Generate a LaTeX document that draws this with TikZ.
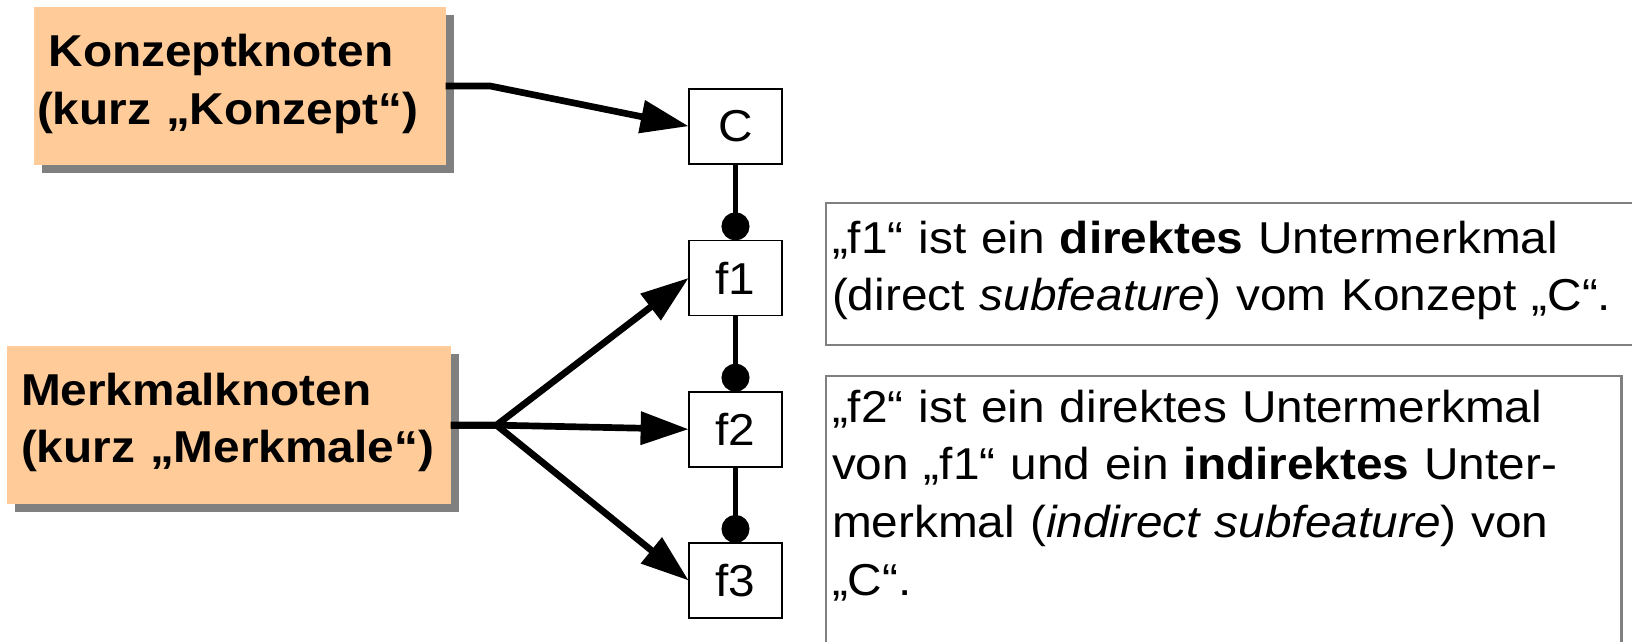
\documentclass[tikz,border=0pt]{standalone}
\usepackage{fontspec}
\setmainfont{Liberation Sans}[FakeStretch=1.07]
\usetikzlibrary{arrows.meta,shadows}
\definecolor{peach}{HTML}{FFCC99}
\definecolor{shadowgray}{HTML}{808080}
\definecolor{framegray}{HTML}{808080}

\begin{document}
\begin{tikzpicture}[x=0.01cm, y=-0.01cm,
  every node/.style={font=\fontsize{12.7}{16.4}\selectfont, outer sep=0pt},
  kind/.style={fill=peach, inner ysep=0pt, inner xsep=0pt, align=left, anchor=base west,
    font=\fontsize{12.7}{16.4}\selectfont\bfseries,
    drop shadow={shadow xshift=0.08cm, shadow yshift=-0.08cm, fill=shadowgray, opacity=1}},
  feature/.style={draw, line width=0.5pt, minimum width=0.936cm, minimum height=0.75cm, inner sep=0pt},
  note/.style={draw=framegray, line width=0.6pt, inner ysep=0pt, inner xsep=0.06cm, align=left, anchor=base west},
  pointer/.style={-{Triangle[length=4.8mm, width=3.2mm]}, line width=1.9pt},
  link/.style={-{Circle[length=2.8mm]}, line width=1.15pt}]
  \useasboundingbox (0,0) rectangle (1632,642);

  % Knotenarten
  \node [kind, inner xsep=0.03cm, text width=4.055cm, text height=0.597cm, text depth=0.983cm] (konzept) at (34,66.7)
    {\hspace*{0.115cm}Konzeptknoten\\(kurz „Konzept“)};
  \node [kind, inner xsep=0.137cm, text width=4.16cm, text height=0.59cm, text depth=0.993cm] (merkmal) at (7.3,405)
    {Merkmalknoten\\(kurz „Merkmale“)};

  % Merkmalbaum
  \node [feature] (C) at (735.5,126.2) {C};
  \node [feature] (f1) at (735.5,277.9) {f1};
  \node [feature] (f2) at (735.5,429.2) {f2};
  \node [feature] (f3) at (735.5,580.5) {f3};

  % Erklaerungen
  \node [note, text width=8.0cm, text height=0.506cm, text depth=0.917cm] (note1) at (826,253.3)
    {„f1“ ist ein \textbf{direktes} Untermerkmal\\(direct \textit{subfeature}) vom Konzept „C“.};
  \node [note, text width=7.83cm, text height=0.46cm, text depth=2.8cm] (note2) at (826,422)
    {„f2“ ist ein direktes Untermerkmal\\von „f1“ und ein \textbf{indirektes} Unter-\\merkmal (\textit{indirect subfeature}) von\\„C“.};

  \coordinate (fork) at ([xshift=0.455cm]merkmal.east);
  \draw [pointer] (konzept.east) -- ++(44.5,0) -- (C.west);
  \foreach \f in {f1,f2,f3}
    \draw [pointer] (merkmal.east) -- (fork) -- (\f.west);
  \path [link] (C) edge (f1) (f1) edge (f2) (f2) edge (f3);
\end{tikzpicture}
\end{document}
